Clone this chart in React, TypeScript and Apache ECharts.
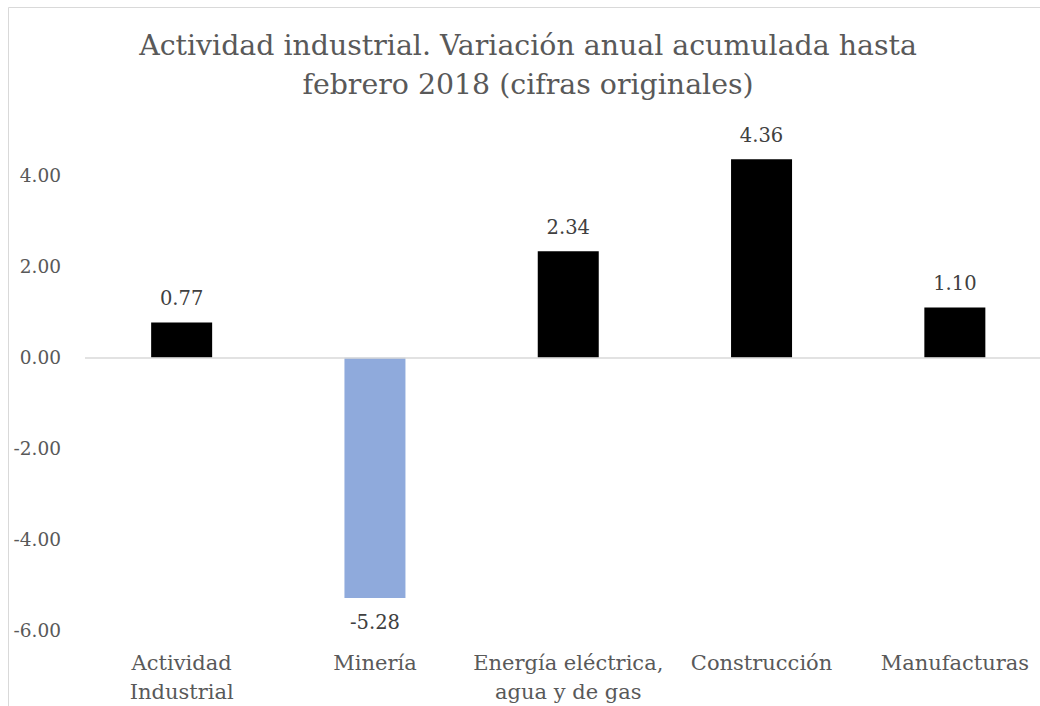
import React, { useEffect, useRef } from "react";
import * as echarts from "echarts";

const TITLE_LINES = [
  "Actividad industrial. Variación anual acumulada hasta",
  "febrero 2018 (cifras originales)",
];
const CATEGORIES = [
  "Actividad\nIndustrial",
  "Minería",
  "Energía eléctrica,\nagua y de gas",
  "Construcción",
  "Manufacturas",
];
const VALUES = [0.77, -5.28, 2.34, 4.36, 1.1];
const BAR_COLORS = ["#000000", "#8FAADC", "#000000", "#000000", "#000000"];
const Y_MIN = -6;
const Y_MAX = 6;
const Y_INTERVAL = 2;

const FONT = "'DejaVu Serif', serif";

export default function App() {
  const ref = useRef<HTMLDivElement>(null);
  useEffect(() => {
    document.body.style.margin = "0";
    const chart = echarts.init(ref.current!, null, { renderer: "svg" });
    chart.setOption({
      animation: false,
      backgroundColor: "#ffffff",
      graphic: [
        {
          type: "rect",
          shape: { x: 8.5, y: 7.5, width: 1200, height: 900 },
          style: { fill: "none", stroke: "#d9d9d9", lineWidth: 1 },
          silent: true,
        },
        {
          type: "text",
          x: 528,
          y: 26,
          style: {
            text: TITLE_LINES.join("\n"),
            font: `28.4px ${FONT}`,
            fill: "#595959",
            textAlign: "center",
            textVerticalAlign: "top",
            lineHeight: 39,
          },
        },
      ],
      grid: {
        left: 85,
        top: 84.6,
        width: 966.5,
        height: 546.1,
        outerBoundsMode: "none",
        containLabel: false,
      },
      xAxis: {
        type: "category",
        data: CATEGORIES,
        axisLine: { show: false, onZero: false },
        axisTick: { show: false },
        axisLabel: {
          color: "#595959",
          fontFamily: FONT,
          fontSize: 21,
          lineHeight: 29,
          margin: 18,
          interval: 0,
        },
      },
      yAxis: {
        type: "value",
        min: Y_MIN,
        max: Y_MAX,
        interval: Y_INTERVAL,
        splitLine: { show: false },
        axisLine: { show: false },
        axisTick: { show: false },
        axisLabel: {
          color: "#595959",
          fontFamily: FONT,
          fontSize: 18.5,
          margin: 24,
          showMaxLabel: false,
          formatter: (v: number) => v.toFixed(2),
        },
      },
      series: [
        {
          type: "bar",
          barWidth: 61,
          data: VALUES.map((v, i) => ({
            value: v,
            itemStyle: { color: BAR_COLORS[i] },
            label: v < 0 ? { position: "bottom", distance: 14 } : { position: "top", distance: 13 },
          })),
          label: {
            show: true,
            color: "#404040",
            fontFamily: FONT,
            fontSize: 19.5,
            lineHeight: 22,
            formatter: (p: any) => Number(p.value).toFixed(2),
          },
          markLine: {
            silent: true,
            symbol: "none",
            label: { show: false },
            lineStyle: { color: "#d9d9d9", width: 1.5, type: "solid" },
            data: [{ yAxis: 0 }],
          },
          z: 3,
        },
      ],
    });
    return () => chart.dispose();
  }, []);
  return <div ref={ref} style={{ width: 1040, height: 706 }} />;
}
